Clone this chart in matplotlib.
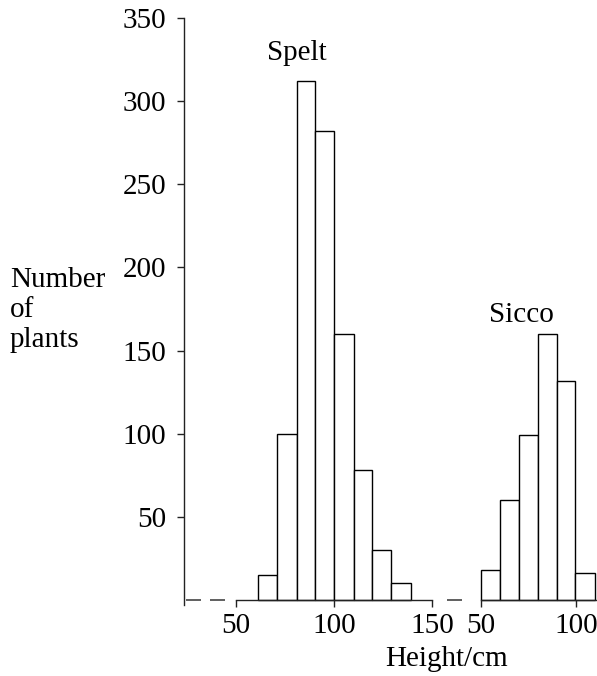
import matplotlib.pyplot as plt
import numpy as np

plt.rcParams['font.family'] = ['Liberation Serif', 'DejaVu Serif']

# Spelt histogram (bin edges, cm)
spelt_edges = [61.5, 71, 81, 90.5, 100, 110, 119.5, 129, 139]
spelt_counts = [15, 100, 312, 282, 160, 78, 30, 10]

# Sicco histogram
sicco_edges = [50, 60, 70, 80, 90, 99.5, 110]
sicco_counts = [18, 60, 99, 160, 132, 16]

y_ticks = [50, 100, 150, 200, 250, 300, 350]
spelt_xticks = [50, 100, 150]
sicco_xticks = [50, 100]

W, H = 597, 676
fig = plt.figure(figsize=(W / 100, H / 100), dpi=100)


def axes_px(left, right, top, bottom):
    return fig.add_axes([left / W, 1 - bottom / H, (right - left) / W, (bottom - top) / H])


FS = 21
axis_col = '#222222'

# left panel (Spelt) holds the y axis
ax1 = axes_px(184, 440, 18, 605)
ax1.set_xlim(23.7, 153.9)
ax1.set_ylim(-3, 350)
ax2 = axes_px(440, 597, 18, 605)
ax2.set_xlim(28.65, 111.0)
ax2.set_ylim(-3, 350)

for ax in (ax1, ax2):
    ax.patch.set_visible(False)
    ax.spines['top'].set_visible(False)
    ax.spines['right'].set_visible(False)
    ax.spines['bottom'].set_position(('data', 0))
    ax.spines['bottom'].set_color(axis_col)
    ax.spines['bottom'].set_linewidth(1.0)
    ax.tick_params(axis='x', direction='out', length=5, width=1, color=axis_col,
                   labelsize=FS, pad=4.5)

ax1.spines['left'].set_color(axis_col)
ax1.spines['left'].set_linewidth(1.0)
ax1.set_yticks(y_ticks)
ax1.tick_params(axis='y', direction='out', length=5, width=1, color=axis_col,
                labelsize=FS, pad=8)
ax2.spines['left'].set_visible(False)
ax2.set_yticks([])

ax1.spines['bottom'].set_bounds(50, 150)
ax1.set_xticks(spelt_xticks)
ax2.spines['bottom'].set_bounds(50, 111.0)
ax2.set_xticks(sicco_xticks)

# bars
ax1.bar(spelt_edges[:-1], spelt_counts, width=np.diff(spelt_edges), align='edge',
        facecolor='white', edgecolor='black', linewidth=1.0)
ax2.bar(sicco_edges[:-1], sicco_counts, width=np.diff(sicco_edges), align='edge',
        facecolor='white', edgecolor='black', linewidth=1.0, clip_on=False)

# broken-axis dashes
ax1.hlines([0, 0], [24.6, 37.1], [32.2, 44.7], color='#444444', linewidth=1.2, clip_on=False)
ax2.hlines(0, 32.5, 40.4, color='#444444', linewidth=1.2, clip_on=False)

# labels
fig.text(297 / W, 1 - 60 / H, 'Spelt', ha='center', va='baseline', fontsize=FS)
fig.text(521.7 / W, 1 - 322 / H, 'Sicco', ha='center', va='baseline', fontsize=FS)
fig.text(446 / W, 1 - 666 / H, 'Height/cm', ha='center', va='baseline', fontsize=FS)
for i, line in enumerate(['Number', 'of', 'plants']):
    fig.text(10 / W, 1 - (287 + 30 * i) / H, line, ha='left', va='baseline', fontsize=FS)

fig.savefig('out.png', dpi=100)
